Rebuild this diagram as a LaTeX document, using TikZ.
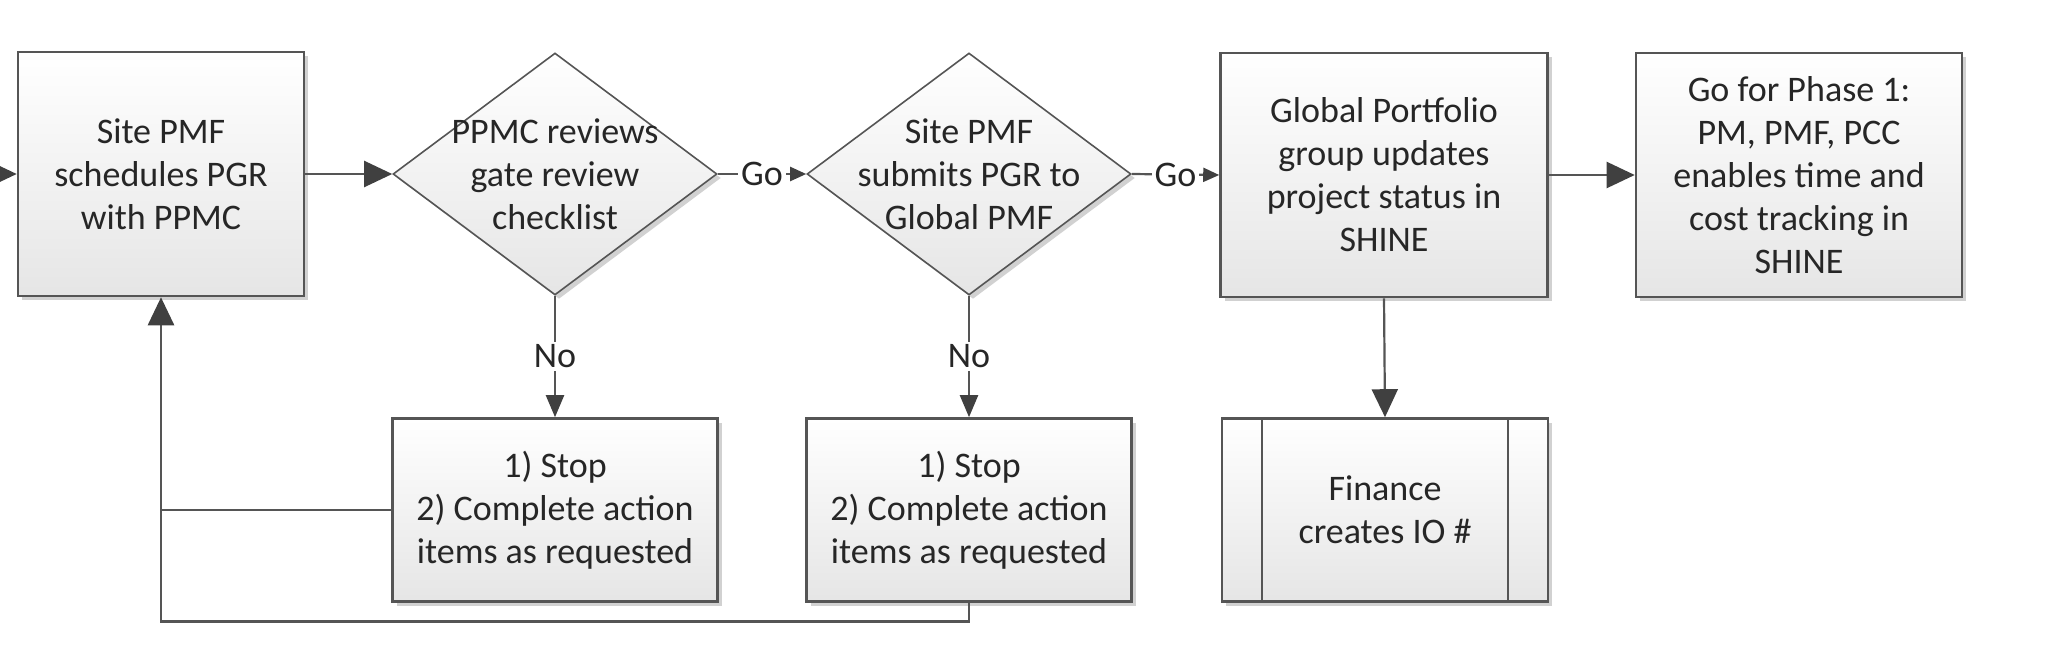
\documentclass[tikz,border=0pt]{standalone}
\usepackage{fontspec}
\setmainfont{Carlito}
\usetikzlibrary{arrows.meta,shapes.geometric,shadows}
\definecolor{linec}{HTML}{555555}
\definecolor{textc}{HTML}{262626}
\definecolor{tipc}{HTML}{404040}
\begin{document}
\begin{tikzpicture}[x=0.5pt,y=-0.5pt,
  shade/.style={top color=white, bottom color=black!10,
    drop shadow={shadow xshift=2pt, shadow yshift=-2pt, opacity=0.18, fill=black}},
  txt/.style={text=textc, align=center, font=\fontsize{18}{21.5}\selectfont, inner sep=0pt},
  box/.style={shade, txt, draw=linec, line width=1.3pt, minimum height=122pt},
  stopbox/.style={shade, txt, draw=linec, line width=1.3pt, minimum width=162.5pt, minimum height=91.5pt},
  dia/.style={diamond, shade, draw=linec, line width=0.8pt, minimum width=162pt, minimum height=121pt, inner sep=0pt},
  conn/.style={draw=linec, line width=1.1pt},
  big/.style={-{Triangle[length=14pt,width=13pt,color=tipc]}},
  mid/.style={-{Triangle[length=11pt,width=9pt,color=tipc]}},
  small/.style={-{Triangle[length=8pt,width=7pt,color=tipc]}},
  lbl/.style={txt, fill=white, inner sep=1.5pt}]
\useasboundingbox (0,0) rectangle (2048,669);
\clip (0,0) rectangle (2048,669);

\node[box, minimum width=143pt] (b1) at (161,174) {Site PMF\\schedules PGR\\with PPMC};
\node[dia] (d1) at (555,174) {};
\node[txt] (d1t) at (555,174) {PPMC reviews\\gate review\\checklist};
\node[dia] (d2) at (969,174) {};
\node[txt] (d2t) at (969,174) {Site PMF\\submits PGR to\\Global PMF};
\node[box, minimum width=163.5pt] (b3) at (1384,175) {Global Portfolio\\group updates\\project status in\\SHINE};
\node[box, minimum width=163pt] (b4) at (1799,175) {Go for Phase 1:\\PM, PMF, PCC\\enables time and\\cost tracking in\\SHINE};
\node[stopbox] (s1) at (555,510) {1) Stop\\2) Complete action\\items as requested};
\node[stopbox] (s2) at (969,510) {1) Stop\\2) Complete action\\items as requested};
\node[stopbox, minimum width=163pt] (fin) at (1385,510) {Finance\\creates IO \#};
\draw[draw=linec, line width=1.1pt] ([xshift=20.5pt]fin.north west) -- ([xshift=20.5pt]fin.south west);
\draw[draw=linec, line width=1.1pt] ([xshift=-20.5pt]fin.north east) -- ([xshift=-20.5pt]fin.south east);

\coordinate (in) at (-20,174);
\draw[conn, big] (in) -- (b1.west);
\draw[conn, big] (b1.east) -- (d1.west);
\draw[conn, small] (d1.east) -- node[lbl] {Go} (d2.west);
\draw[conn, small] (d2.east) -- node[lbl] {Go} (b3.west);
\draw[conn, big] (b3.east) -- (b4.west);
\draw[conn, mid] (d1.south) -- node[lbl] {No} (s1.north);
\draw[conn, mid] (d2.south) -- node[lbl] {No} (s2.north);
\draw[conn, big] (b3.south) -- (fin.north);
\draw[conn, line width=1.4pt] (s1.west) -- (s1.west -| b1.south);
\draw[conn, line width=1.4pt, big] (s2.south) -- ++(0,19) -| (b1.south);
\end{tikzpicture}
\end{document}
